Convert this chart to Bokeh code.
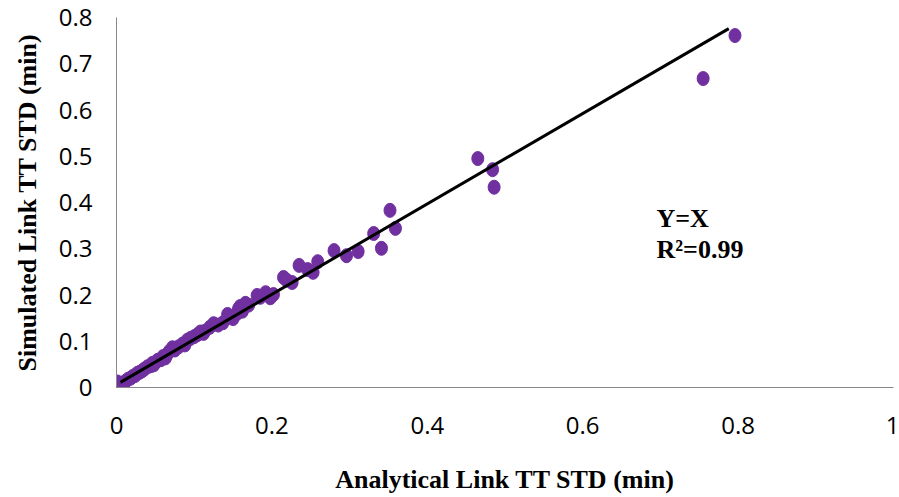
from bokeh.plotting import figure
from bokeh.models import Range1d, FixedTicker, ColumnDataSource
from bokeh.core.properties import value
from bokeh.embed import file_html
from bokeh.resources import INLINE

# Data
analytical = [0.796, 0.755, 0.465, 0.484, 0.486,
              0.352, 0.359, 0.331, 0.341, 0.280, 0.296, 0.311, 0.235, 0.259, 0.253, 0.246, 0.215, 0.226, 0.219,
              0.192, 0.202, 0.198, 0.185, 0.181, 0.166, 0.159, 0.157, 0.162, 0.143, 0.150, 0.146, 0.155,
              0.125, 0.120, 0.131, 0.108, 0.112, 0.100, 0.104, 0.091, 0.095, 0.085, 0.080, 0.072, 0.075,
              0.068, 0.065, 0.060, 0.057, 0.053, 0.050, 0.046, 0.044, 0.040, 0.036, 0.033, 0.030, 0.027,
              0.024, 0.021, 0.018, 0.015, 0.012, 0.010, 0.008, 0.006, 0.004, 0.003, 0.002, 0.001, 0.000,
              0.000, 0.001, 0.003, 0.005, 0.088, 0.063, 0.048, 0.113, 0.137, 0.170]
simulated = [0.761, 0.668, 0.495, 0.471, 0.433,
             0.383, 0.344, 0.333, 0.301, 0.296, 0.285, 0.294, 0.264, 0.272, 0.249, 0.255, 0.238, 0.227, 0.232,
             0.205, 0.201, 0.194, 0.195, 0.199, 0.182, 0.175, 0.170, 0.165, 0.158, 0.149, 0.152, 0.160,
             0.138, 0.130, 0.135, 0.120, 0.117, 0.110, 0.114, 0.102, 0.106, 0.094, 0.088, 0.086, 0.081,
             0.078, 0.071, 0.067, 0.060, 0.059, 0.054, 0.052, 0.047, 0.045, 0.040, 0.036, 0.033, 0.031,
             0.026, 0.024, 0.020, 0.018, 0.014, 0.011, 0.009, 0.008, 0.006, 0.004, 0.002, 0.001, 0.000,
             0.008, 0.012, 0.010, 0.003, 0.092, 0.064, 0.049, 0.121, 0.140, 0.178]

trend_x = [0.005, 0.788]
trend_y = [0.011, 0.776]

x_ticks = [0, 0.2, 0.4, 0.6, 0.8, 1]
x_tick_labels = ["0", "0.2", "0.4", "0.6", "0.8", "1"]
y_ticks = [0, 0.1, 0.2, 0.3, 0.4, 0.5, 0.6, 0.7, 0.8]
y_tick_labels = ["0", "0.1", "0.2", "0.3", "0.4", "0.5", "0.6", "0.7", "0.8"]

annot_lines = ["Y=X", "R\u00b2=0.99"]

p = figure(width=899, height=497, output_backend="svg", toolbar_location=None,
           x_range=Range1d(0, 1), y_range=Range1d(0, 0.8),
           min_border_left=116, min_border_right=6, min_border_top=17, min_border_bottom=110)
p.outline_line_color = None
p.grid.visible = False
p.background_fill_color = "white"
p.border_fill_color = "white"

src = ColumnDataSource(dict(x=analytical, y=simulated))
p.ellipse(x="x", y="y", width=12, height=14, width_units="screen", height_units="screen",
          source=src, fill_color="#7030A0", line_color="#7030A0")
p.line(trend_x, trend_y, line_color="black", line_width=3)

p.text(x=[0.695, 0.695], y=[0.365, 0.298], text=annot_lines,
       text_font=value("Liberation Serif"), text_font_style="bold", text_font_size="26px",
       text_baseline="middle", text_align="left", text_color="black")

for ax, ticks, labels in ((p.xaxis[0], x_ticks, x_tick_labels), (p.yaxis[0], y_ticks, y_tick_labels)):
    ax.ticker = FixedTicker(ticks=ticks)
    ax.major_label_overrides = {t: l for t, l in zip(ticks, labels)}
    ax.major_tick_line_color = None
    ax.minor_tick_line_color = None
    ax.major_tick_out = 0
    ax.major_tick_in = 0
    ax.axis_line_color = "#898989"
    ax.axis_line_width = 1
    ax.major_label_text_font = "Open Sans"
    ax.major_label_text_font_size = "24px"
    ax.major_label_text_color = "black"
    ax.axis_label_text_font = "Liberation Serif"
    ax.axis_label_text_font_style = "bold"
    ax.axis_label_text_color = "black"

p.xaxis.axis_label = "Analytical Link TT STD (min)"
p.yaxis.axis_label = "Simulated Link TT STD (min)"
p.xaxis.axis_label_text_font_size = "26px"
p.yaxis.axis_label_text_font_size = "26px"
p.xaxis.major_label_standoff = 29
p.yaxis.major_label_standoff = 24
p.xaxis.axis_label_standoff = 28
p.yaxis.axis_label_standoff = 14

open("out.html", "w").write(file_html(p, INLINE))
